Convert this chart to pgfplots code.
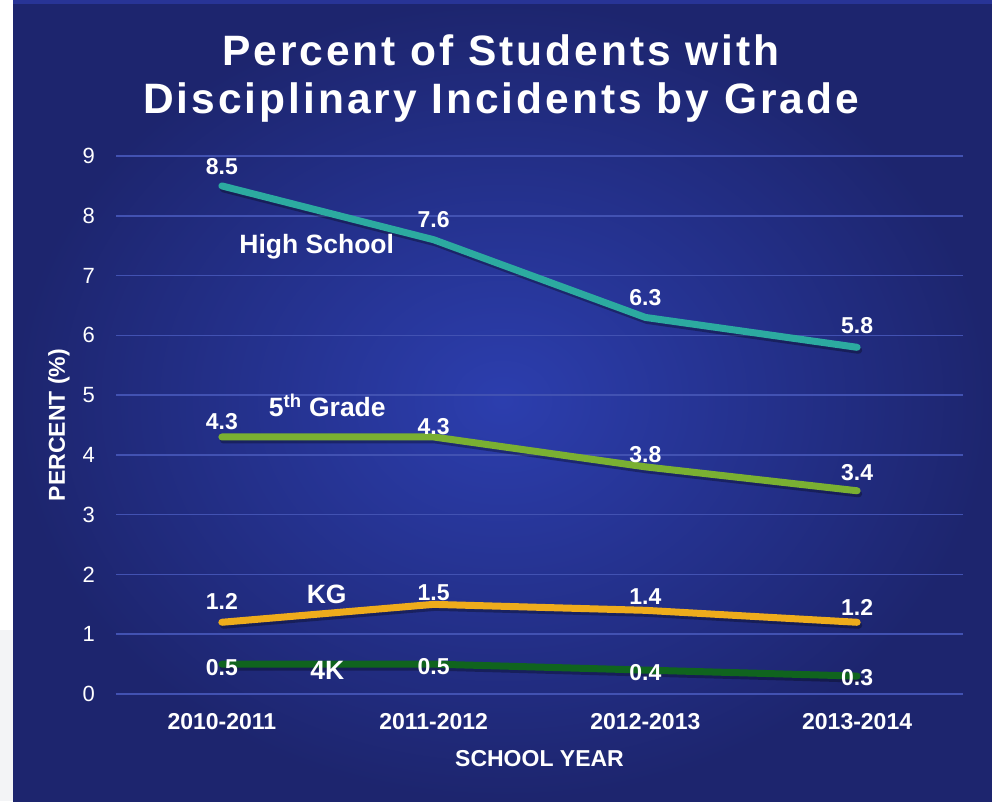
\documentclass[border=0pt]{standalone}
\usepackage{fontspec}
\setmainfont{Liberation Sans}
\newfontfamily\titlefont[LetterSpace=7]{Liberation Sans}
\usepackage{pgfplots}
\usepackage{pgfplotstable}
\pgfplotsset{compat=1.18}
\definecolor{bgLight}{RGB}{44,62,174}
\definecolor{bgDark}{RGB}{29,37,110}
\definecolor{topStrip}{RGB}{40,52,150}
\definecolor{gridcol}{RGB}{66,82,178}
\definecolor{hscol}{RGB}{44,170,160}
\definecolor{fifthcol}{RGB}{122,176,50}
\definecolor{kgcol}{RGB}{238,172,28}
\definecolor{fourkcol}{RGB}{16,100,30}
\definecolor{lightgray}{RGB}{243,244,246}
\tikzset{serieslabel/.style={text=white, inner sep=0pt, font=\fontsize{26.5}{30}\selectfont\bfseries}}

\pgfplotstableread{
x y dy
0 8.5 19
1 7.6 20
2 6.3 20
3 5.8 22
}\hs
\pgfplotstableread{
x y dy
0 4.3 15
1 4.3 10
2 3.8 12
3 3.4 18
}\fifth
\pgfplotstableread{
x y dy
0 1.2 21
1 1.5 12
2 1.4 14
3 1.2 15
}\kg
\pgfplotstableread{
x y dy
0 0.5 -3
1 0.5 -2
2 0.4 -2
3 0.3 -2
}\fourk

\begin{document}
\begin{tikzpicture}
\useasboundingbox (0,0) rectangle (992pt,-801pt);
\fill[white] (0,0) rectangle (992pt,-801pt);
\fill[lightgray] (0,-630pt) rectangle (13pt,-801pt);
\shade[inner color=bgLight, outer color=bgDark] (13pt,0) rectangle (992pt,-801pt);
\fill[topStrip] (13pt,0) rectangle (992pt,-4pt);

\begin{axis}[
  at={(116pt,-694pt)}, anchor=south west,
  scale only axis, width=847pt, height=538pt,
  xmin=-0.5, xmax=3.5, ymin=0, ymax=9,
  clip=false,
  axis line style={draw=none},
  major tick length=0pt,
  ymajorgrids, grid style={color=gridcol, line width=1.5pt},
  ytick={0,1,...,9},
  xtick={0,1,2,3},
  xticklabels={\textbf{2010-2011},\textbf{2011-2012},\textbf{2012-2013},\textbf{2013-2014}},
  /pgf/number format/assume math mode=true,
  yticklabel style={anchor=east, inner sep=0pt, xshift=-21pt, font=\fontsize{22}{26}\selectfont, text=white},
  xticklabel style={anchor=center, inner sep=0pt, yshift=-28pt, font=\fontsize{23}{27}\selectfont, text=white},
  xlabel={SCHOOL YEAR}, ylabel={PERCENT (\%)},
  every axis x label/.style={at={(axis description cs:0.5,-0.1199)}, anchor=center, font=\fontsize{23}{27}\selectfont\bfseries, text=white},
  every axis y label/.style={at={(axis description cs:-0.0673,0.5)}, rotate=90, anchor=center, font=\fontsize{23}{27}\selectfont\bfseries, text=white},
  shadowplot/.style={black, opacity=0.3, line width=7pt, line cap=round, line join=round, xshift=1.5pt, yshift=-3pt, forget plot},
  mainplot/.style={line width=7pt, line cap=round, line join=round, mark=none,
    nodes near coords, point meta=explicit symbolic,
    visualization depends on={\thisrow{dy} \as \dy},
    nodes near coords style={anchor=center, yshift=\dy pt, inner sep=0pt, text=white, font=\fontsize{23}{27}\selectfont\bfseries}},
]
\addplot[shadowplot] table[x=x,y=y] {\hs};
\addplot[shadowplot] table[x=x,y=y] {\fifth};
\addplot[shadowplot] table[x=x,y=y] {\kg};
\addplot[shadowplot] table[x=x,y=y] {\fourk};
\addplot[mainplot, color=fourkcol] table[x=x,y=y,meta=y] {\fourk};
\addplot[mainplot, color=kgcol] table[x=x,y=y,meta=y] {\kg};
\addplot[mainplot, color=fifthcol] table[x=x,y=y,meta=y] {\fifth};
\addplot[mainplot, color=hscol] table[x=x,y=y,meta=y] {\hs};

\node[serieslabel] at (axis cs:0.448,7.49) {High School};
\node[serieslabel] at (axis cs:0.498,4.82) {5\textsuperscript{th} Grade};
\node[serieslabel] at (axis cs:0.495,1.67) {KG};
\node[serieslabel] at (axis cs:0.498,0.40) {4K};
\end{axis}

\node[anchor=base, text=white, font=\titlefont\fontsize{42.5}{48}\selectfont\bfseries] at (501pt,-65pt) {Percent of Students with};
\node[anchor=base, text=white, font=\titlefont\fontsize{42.5}{48}\selectfont\bfseries] at (501pt,-113pt) {Disciplinary Incidents by Grade};
\end{tikzpicture}
\end{document}
